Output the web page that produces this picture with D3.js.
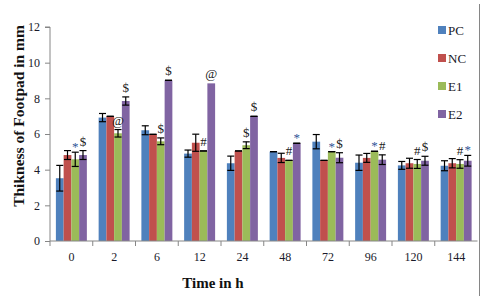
<!DOCTYPE html>
<html>
<head>
<meta charset="utf-8">
<script src="https://cdn.jsdelivr.net/npm/d3@7"></script>
<style>
  body { margin: 0; background: #fff; }
  svg { font-family: "Liberation Serif", "Times New Roman", serif; }
</style>
</head>
<body>
<div id="chart"></div>
<script>
// data
const times = ['0', '2', '6', '12', '24', '48', '72', '96', '120', '144'];
const seriesNames = ['PC', 'NC', 'E1', 'E2'];
const yTicks = [0, 2, 4, 6, 8, 10, 12];

const pcValues = [3.52, 6.92, 6.21, 4.90, 4.36, 5.01, 5.57, 4.39, 4.24, 4.22];
const ncValues = [4.82, 6.99, 5.98, 5.51, 5.05, 4.66, 4.52, 4.66, 4.36, 4.36];
const e1Values = [4.58, 6.04, 5.59, 5.05, 5.37, 4.52, 5.01, 5.03, 4.32, 4.32];
const e2Values = [4.82, 7.85, 9.01, 8.84, 6.99, 5.48, 4.67, 4.56, 4.50, 4.50];

// symmetric error (null = no error bar)
const pcErr = [0.72, 0.23, 0.25, 0.20, 0.40, 0, 0.40, 0.43, 0.22, 0.28];
const ncErr = [0.25, 0, 0, 0.48, 0, 0.26, 0, 0.25, 0.28, 0.26];
const e1Err = [0.40, 0.21, 0.19, 0, 0.19, 0, 0, 0, 0.25, 0.24];
const e2Err = [0.25, 0.23, 0, null, 0, 0, 0.28, 0.27, 0.25, 0.30];

// significance marks: [time, series, symbol]
const marks = [
  ['0', 'E1', '*'], ['0', 'E2', '$'],
  ['2', 'E1', '@'], ['2', 'E2', '$'],
  ['6', 'E1', '$'], ['6', 'E2', '$'],
  ['12', 'E1', '#'], ['12', 'E2', '@'],
  ['24', 'E1', '$'], ['24', 'E2', '$'],
  ['48', 'E1', '#'], ['48', 'E2', '*'],
  ['72', 'E1', '*'], ['72', 'E2', '$'],
  ['96', 'E1', '*'], ['96', 'E2', '#'],
  ['120', 'E1', '#'], ['120', 'E2', '$'],
  ['144', 'E1', '#'], ['144', 'E2', '*']
];

const colors = { PC: '#4F81BD', NC: '#C0504D', E1: '#9BBB59', E2: '#8064A2' };

const valuesBySeries = { PC: pcValues, NC: ncValues, E1: e1Values, E2: e2Values };
const errBySeries = { PC: pcErr, NC: ncErr, E1: e1Err, E2: e2Err };

const width = 483;
const height = 299;
const margin = { top: 27, right: 5, bottom: 58, left: 50 };

const svg = d3.select('#chart').append('svg')
  .attr('width', width)
  .attr('height', height);

const x0 = d3.scaleBand()
  .domain(times)
  .range([margin.left, 477.5])
  .padding(0);

const x1 = d3.scaleBand()
  .domain(seriesNames)
  .range([0, x0.bandwidth()])
  .paddingInner(0)
  .paddingOuter(0.76);

const y = d3.scaleLinear()
  .domain([0, 12])
  .range([241, margin.top]);

const rows = [];
times.forEach((t, i) => {
  seriesNames.forEach(s => {
    rows.push({ time: t, series: s, value: valuesBySeries[s][i], err: errBySeries[s][i] });
  });
});

// bars
svg.append('g').attr('class', 'bars')
  .selectAll('rect').data(rows).enter().append('rect')
    .attr('x', d => x0(d.time) + x1(d.series))
    .attr('y', d => y(d.value))
    .attr('width', x1.bandwidth())
    .attr('height', d => y(0) - y(d.value))
    .attr('fill', d => colors[d.series]);

// error bars
const capW = 7;
const errG = svg.append('g').attr('class', 'errors')
  .selectAll('g').data(rows.filter(d => d.err !== null)).enter().append('g')
    .attr('transform', d => `translate(${x0(d.time) + x1(d.series) + x1.bandwidth() / 2},0)`);
errG.append('line')
  .attr('y1', d => y(d.value - d.err))
  .attr('y2', d => y(d.value + d.err))
  .attr('stroke', '#000')
  .attr('stroke-width', 1.2);
errG.selectAll('.cap').data(d => [d.value - d.err, d.value + d.err]).enter().append('line')
  .attr('class', 'cap')
  .attr('x1', -capW / 2)
  .attr('x2', capW / 2)
  .attr('y1', v => y(v))
  .attr('y2', v => y(v))
  .attr('stroke', '#000')
  .attr('stroke-width', 1.2);

// significance marks
const lookup = {};
rows.forEach(d => { lookup[d.time + '|' + d.series] = d; });
svg.append('g').attr('class', 'marks')
  .selectAll('text').data(marks).enter().append('text')
    .attr('x', m => x0(m[0]) + x1(m[1]) + x1.bandwidth() / 2)
    .attr('y', m => {
      const d = lookup[m[0] + '|' + m[1]];
      return y(d.value + (d.err || 0)) - (m[2] === '*' ? 1 : 5);
    })
    .attr('text-anchor', 'middle')
    .attr('font-size', 13)
    .attr('fill', m => m[2] === '*' ? '#2F5597' : '#1a1a1a')
    .text(m => m[2]);

// y axis
const yAxisG = svg.append('g')
  .attr('transform', `translate(${margin.left},0)`)
  .call(d3.axisLeft(y).tickValues(yTicks).tickSize(5).tickPadding(5));
yAxisG.select('.domain').attr('stroke', '#868686').attr('d', `M-5,${y(12)}H0V${y(0)}`);
yAxisG.selectAll('.tick line').attr('stroke', '#868686');
yAxisG.selectAll('.tick text')
  .attr('font-family', '"Liberation Serif", serif')
  .attr('font-size', 12)
  .attr('fill', '#1a1a2a');

// x axis
svg.append('line')
  .attr('x1', margin.left).attr('x2', 477.5)
  .attr('y1', y(0)).attr('y2', y(0))
  .attr('stroke', '#868686');
svg.append('g').selectAll('line').data(times).enter().append('line')
  .attr('x1', d => x0(d)).attr('x2', d => x0(d))
  .attr('y1', y(0)).attr('y2', y(0) + 5)
  .attr('stroke', '#868686');
svg.append('g').selectAll('text').data(times).enter().append('text')
  .attr('x', d => x0(d) + x0.bandwidth() / 2)
  .attr('y', 261)
  .attr('text-anchor', 'middle')
  .attr('font-size', 12)
  .attr('fill', '#1a1a2a')
  .text(d => d);

// axis titles
svg.append('text')
  .attr('x', 213)
  .attr('y', 288)
  .attr('text-anchor', 'middle')
  .attr('font-size', 15)
  .attr('font-weight', 'bold')
  .attr('fill', '#111')
  .text('Time in h');

svg.append('text')
  .attr('transform', 'translate(24,116) rotate(-90)')
  .attr('text-anchor', 'middle')
  .attr('font-size', 15.5)
  .attr('font-weight', 'bold')
  .attr('fill', '#111')
  .text('Thikness of Footpad in mm');

// legend
const legend = svg.append('g').attr('class', 'legend')
  .selectAll('g').data(seriesNames).enter().append('g')
    .attr('transform', (d, i) => `translate(438,${30 + i * 28})`);
legend.append('rect')
  .attr('x', 0).attr('y', -4)
  .attr('width', 8).attr('height', 8)
  .attr('fill', d => colors[d]);
legend.append('text')
  .attr('x', 10).attr('y', 4.5)
  .attr('font-size', 13)
  .attr('fill', '#1a1a2a')
  .text(d => d);

// right border of chart area
svg.append('line')
  .attr('x1', 479.5).attr('x2', 479.5)
  .attr('y1', 4).attr('y2', 296)
  .attr('stroke', '#868686');
</script>
</body>
</html>
